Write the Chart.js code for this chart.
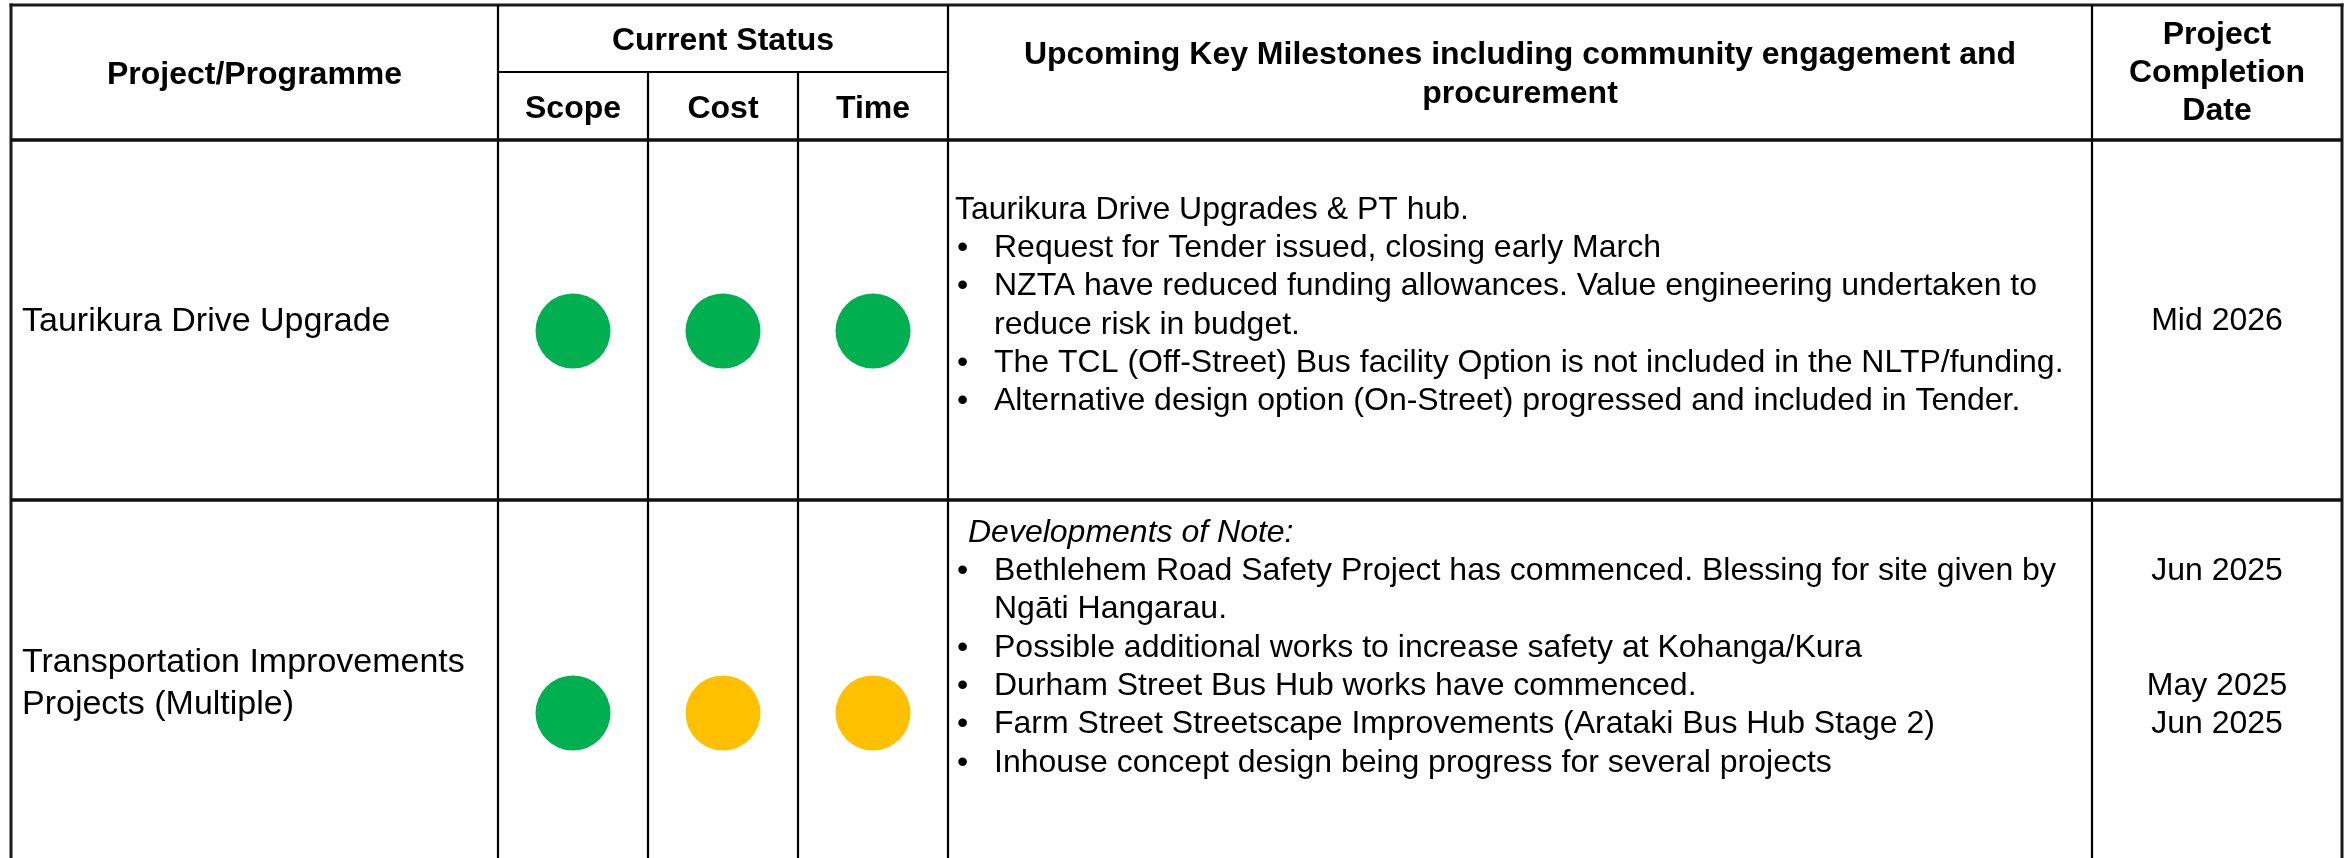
<!DOCTYPE html>
<html><head><meta charset="utf-8">
<script src="https://cdn.jsdelivr.net/npm/chart.js@4.4.1/dist/chart.umd.min.js"></script>
<style>
html,body{margin:0;padding:0;background:#fff;overflow:hidden;width:2351px;height:858px}
canvas{display:block}
</style></head>
<body>
<canvas id="c" width="2351" height="904"></canvas>
<script>
// ---------- DATA ----------
const projects = ['Taurikura Drive Upgrade', 'Transportation Improvements Projects (Multiple)'];
const projectLabelLines = [['Taurikura Drive Upgrade'], ['Transportation Improvements', 'Projects (Multiple)']];
const statusCategories = ['Scope', 'Cost', 'Time'];
const scopeStatus = ['green', 'green'];
const costStatus  = ['green', 'amber'];
const timeStatus  = ['green', 'amber'];
const statusColours = { green: '#00B050', amber: '#FFC000' };

const headerProject = 'Project/Programme';
const headerStatus = 'Current Status';
const headerMilestones = ['Upcoming Key Milestones including community engagement and', 'procurement'];
const headerCompletion = ['Project', 'Completion', 'Date'];

const milestoneIntro = ['Taurikura Drive Upgrades & PT hub.', 'Developments of Note:'];
const milestoneIntroItalic = [false, true];
const milestoneBullets = [
  [
    ['Request for Tender issued, closing early March'],
    ['NZTA have reduced funding allowances. Value engineering undertaken to', 'reduce risk in budget.'],
    ['The TCL (Off-Street) Bus facility Option is not included in the NLTP/funding.'],
    ['Alternative design option (On-Street) progressed and included in Tender.']
  ],
  [
    ['Bethlehem Road Safety Project has commenced. Blessing for site given by', 'Ng\u0101ti Hangarau.'],
    ['Possible additional works to increase safety at Kohanga/Kura'],
    ['Durham Street Bus Hub works have commenced.'],
    ['Farm Street Streetscape Improvements (Arataki Bus Hub Stage 2)'],
    ['Inhouse concept design being progress for several projects']
  ]
];
const rowCompletionDate = ['Mid 2026', ''];
const bulletCompletionDates = [
  ['', '', '', ''],
  ['Jun 2025', '', 'May 2025', 'Jun 2025', '']
];

// ---------- LAYOUT ----------
const FONT = "'Liberation Sans', Arial, Helvetica, sans-serif";
const L = {
  left: 11, right: 2342, top: 5,
  colProject: 498, colScope: 648, colCost: 798, colTime: 948, colDate: 2092,
  subHeader: 72, headerBottom: 140, rowSep: 500, bottom: 904,
  lineH: 38.3,
  rowTextTop: [210, 533],
  rowLabelY: [[322], [663, 705]],
  rowDateY: [321, null]
};

const tablePlugin = {
  id: 'tablePlugin',
  beforeDraw(chart) {
    const ctx = chart.ctx;
    ctx.save();
    ctx.fillStyle = '#ffffff';
    ctx.fillRect(0, 0, chart.width, chart.height);
    ctx.restore();
  },
  afterDatasetsDraw(chart) {
    const ctx = chart.ctx;
    ctx.save();
    // ---- grid lines ----
    const line = (x1, y1, x2, y2, w, c) => {
      ctx.beginPath(); ctx.lineWidth = w; ctx.strokeStyle = c || '#000';
      ctx.moveTo(x1, y1); ctx.lineTo(x2, y2); ctx.stroke();
    };
    line(L.left, L.top - 1.5, L.left, L.bottom, 3, '#1a1a1a');
    line(L.right, L.top - 1.5, L.right, L.bottom, 3, '#1a1a1a');
    line(L.left - 1.5, L.top, L.right + 1.5, L.top, 3, '#1a1a1a');
    [L.colProject, L.colTime, L.colDate].forEach(x => line(x, L.top, x, L.bottom, 2.2, '#000'));
    [L.colScope, L.colCost].forEach(x => line(x, L.subHeader, x, L.bottom, 2.2, '#000'));
    line(L.colProject, L.subHeader, L.colTime, L.subHeader, 2.2, '#000');
    line(L.left, L.headerBottom, L.right, L.headerBottom, 3.5, '#111');
    line(L.left, L.rowSep, L.right, L.rowSep, 3.5, '#111');

    // ---- header text ----
    ctx.fillStyle = '#000';
    ctx.textBaseline = 'middle';
    ctx.textAlign = 'center';
    ctx.font = 'bold 32px ' + FONT;
    ctx.fillText(headerProject, (L.left + L.colProject) / 2, 75);
    ctx.fillText(headerStatus, (L.colProject + L.colTime) / 2, 41);
    const xs = chart.scales.x;
    statusCategories.forEach((c, i) => ctx.fillText(c, xs.getPixelForValue(i), 109));
    headerMilestones.forEach((t, i) => ctx.fillText(t, (L.colTime + L.colDate) / 2, 55 + i * 39));
    headerCompletion.forEach((t, i) => ctx.fillText(t, (L.colDate + L.right) / 2, 35 + i * 38));

    // ---- row labels ----
    ctx.textAlign = 'left';
    ctx.font = '34px ' + FONT;
    projectLabelLines.forEach((lines, r) => {
      lines.forEach((t, i) => ctx.fillText(t, 22, L.rowLabelY[r][i]));
    });

    // ---- milestones + dates ----
    const dateX = (L.colDate + L.right) / 2;
    milestoneIntro.forEach((intro, r) => {
      let y = L.rowTextTop[r];
      ctx.textAlign = 'left';
      ctx.font = (milestoneIntroItalic[r] ? 'italic ' : '') + '32px ' + FONT;
      ctx.fillText(intro, milestoneIntroItalic[r] ? 968 : 955, y);
      y += L.lineH;
      ctx.font = '32px ' + FONT;
      milestoneBullets[r].forEach((bl, b) => {
        ctx.textAlign = 'left';
        ctx.fillText('\u2022', 957, y);
        const d = bulletCompletionDates[r][b];
        if (d) { ctx.textAlign = 'center'; ctx.fillText(d, dateX, y); ctx.textAlign = 'left'; }
        bl.forEach(t => { ctx.fillText(t, 994, y); y += L.lineH; });
      });
      if (rowCompletionDate[r]) {
        ctx.textAlign = 'center';
        ctx.fillText(rowCompletionDate[r], dateX, L.rowDateY[r]);
      }
    });
    ctx.restore();
  }
};

const statusSeries = [scopeStatus, costStatus, timeStatus];
const datasets = statusCategories.map((cat, ci) => ({
  label: cat,
  data: projects.map((p, ri) => ({ x: cat, y: ri })),
  pointBackgroundColor: statusSeries[ci].map(s => statusColours[s]),
  pointBorderWidth: 0,
  pointRadius: 37.5,
  pointHoverRadius: 37.5,
  clip: false
}));

new Chart(document.getElementById('c'), {
  type: 'scatter',
  data: { datasets },
  options: {
    responsive: false,
    animation: false,
    events: [],
    layout: { autoPadding: false, padding: { left: L.colProject, right: 2351 - L.colTime, top: L.headerBottom, bottom: 0 } },
    plugins: { legend: { display: false }, tooltip: { enabled: false } },
    scales: {
      x: { type: 'category', labels: statusCategories, offset: true, display: false },
      y: { type: 'linear', min: -0.5, max: projects.length - 0.5, reverse: true, display: false }
    }
  },
  plugins: [tablePlugin]
});
</script>
</body></html>
